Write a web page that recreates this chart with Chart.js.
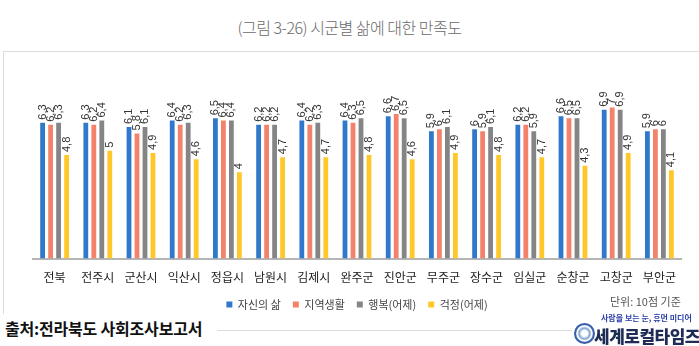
<!DOCTYPE html>
<html><head><meta charset="utf-8">
<script src="https://cdn.jsdelivr.net/npm/chart.js@4.4.0/dist/chart.umd.min.js"></script>
<style>
html,body{margin:0;padding:0;background:#fff;}
body{width:699px;height:346px;position:relative;overflow:hidden;font-family:"Noto Sans CJK KR","Noto Sans",sans-serif;}
#frame{position:absolute;left:3px;top:51px;width:700px;height:280px;border:1px solid #dcdcdc;box-sizing:border-box;}
#title{position:absolute;left:0;top:15px;width:699px;text-align:center;font-size:16px;color:#6a6a6a;font-weight:300;letter-spacing:-0.5px;}
#cv{position:absolute;left:0;top:0;}
#unit{position:absolute;left:610px;top:293px;font-size:11px;color:#555;}
#src{position:absolute;left:0;top:314px;width:212px;height:32px;background:#fff;font-size:16px;font-weight:700;color:#111;padding-left:5px;line-height:28px;letter-spacing:-0.2px;}
#logo{position:absolute;left:572px;top:310px;width:127px;height:36px;background:#fff;}
#logo .s{position:absolute;left:29px;top:2px;font-size:8px;font-weight:700;color:#2a3fa8;white-space:nowrap;}
#logo .b{position:absolute;left:22px;top:13px;font-size:17px;font-weight:900;color:#1d2b55;white-space:nowrap;letter-spacing:-0.5px;}
#logo .c{position:absolute;left:2px;top:13px;width:21px;height:21px;border-radius:50%;border:2px solid #3a5fa8;box-sizing:border-box;background:radial-gradient(circle,#fff 25%,#7fa3d3 45%,#fff 60%,#9fbbe0 80%);}
</style></head>
<body>
<div id="frame"></div>
<div id="title">(그림 3-26) 시군별 삶에 대한 만족도</div>
<canvas id="cv" width="699" height="346"></canvas>
<div id="unit">단위: 10점 기준</div>
<div id="src">출처:전라북도 사회조사보고서</div>
<div id="logo"><div class="c"></div><div class="s">사람을 보는 눈, 휴먼 미디어</div><div class="b">세계로컬타임즈</div></div>
<script>
const categories = ["전북","전주시","군산시","익산시","정읍시","남원시","김제시","완주군","진안군","무주군","장수군","임실군","순창군","고창군","부안군"];
const seriesNames = ["자신의 삶","지역생활","행복(어제)","걱정(어제)"];
const lifeSelf   = [6.3,6.3,6.1,6.4,6.5,6.2,6.4,6.4,6.6,5.9,6.0,6.2,6.6,6.9,5.9];
const lifeRegion = [6.2,6.2,5.8,6.2,6.4,6.2,6.2,6.3,6.7,6.0,5.9,6.2,6.5,7.0,6.0];
const happyYest  = [6.3,6.4,6.1,6.3,6.4,6.2,6.3,6.5,6.5,6.1,6.1,5.9,6.5,6.9,6.0];
const worryYest  = [4.8,5.0,4.9,4.6,4.0,4.7,4.7,4.8,4.6,4.9,4.8,4.7,4.3,4.9,4.1];
const colors = ["#2f78cc","#f4826a","#858585","#ffc828"];

const valueLabels = {
  id:'valueLabels',
  afterDatasetsDraw(chart){
    const ctx = chart.ctx;
    ctx.save();
    ctx.font = '11px "Liberation Sans", Arial, sans-serif';
    ctx.fillStyle = '#333';
    ctx.textAlign = 'left';
    ctx.textBaseline = 'middle';
    chart.data.datasets.forEach((ds,i)=>{
      const meta = chart.getDatasetMeta(i);
      meta.data.forEach((el,j)=>{
        const txt = String(ds.data[j]).replace('.',',');
        ctx.save();
        ctx.translate(el.x, el.y - 3);
        ctx.rotate(-Math.PI/2);
        ctx.fillText(txt, 0, 0);
        ctx.restore();
      });
    });
    ctx.restore();
  }
};

new Chart(document.getElementById('cv'), {
  type:'bar',
  data:{
    labels:categories,
    datasets:[lifeSelf,lifeRegion,happyYest,worryYest].map((d,i)=>({
      label:seriesNames[i], data:d, backgroundColor:colors[i], borderWidth:0,
      barPercentage:0.6, categoryPercentage:0.74
    }))
  },
  options:{
    responsive:false, animation:false, devicePixelRatio:1,
    layout:{padding:{left:33,right:18,top:86,bottom:26}},
    scales:{
      x:{
        grid:{display:true,color:'rgba(0,0,0,0)',drawTicks:false},
        border:{display:true,color:'#b5b5b5',width:2},
        ticks:{color:'#222',padding:12,font:{size:12,family:'"Noto Sans CJK KR", sans-serif'},maxRotation:0,autoSkip:false},
        afterFit(scale){ scale.height -= 10; }
      },
      y:{display:false,min:0,max:8}
    },
    plugins:{
      legend:{position:'bottom',
        labels:{boxWidth:6,boxHeight:6,padding:12,color:'#444',font:{size:11,family:'"Noto Sans CJK KR", sans-serif'}}},
      tooltip:{enabled:false}
    }
  },
  plugins:[valueLabels]
});
</script>
</body></html>
